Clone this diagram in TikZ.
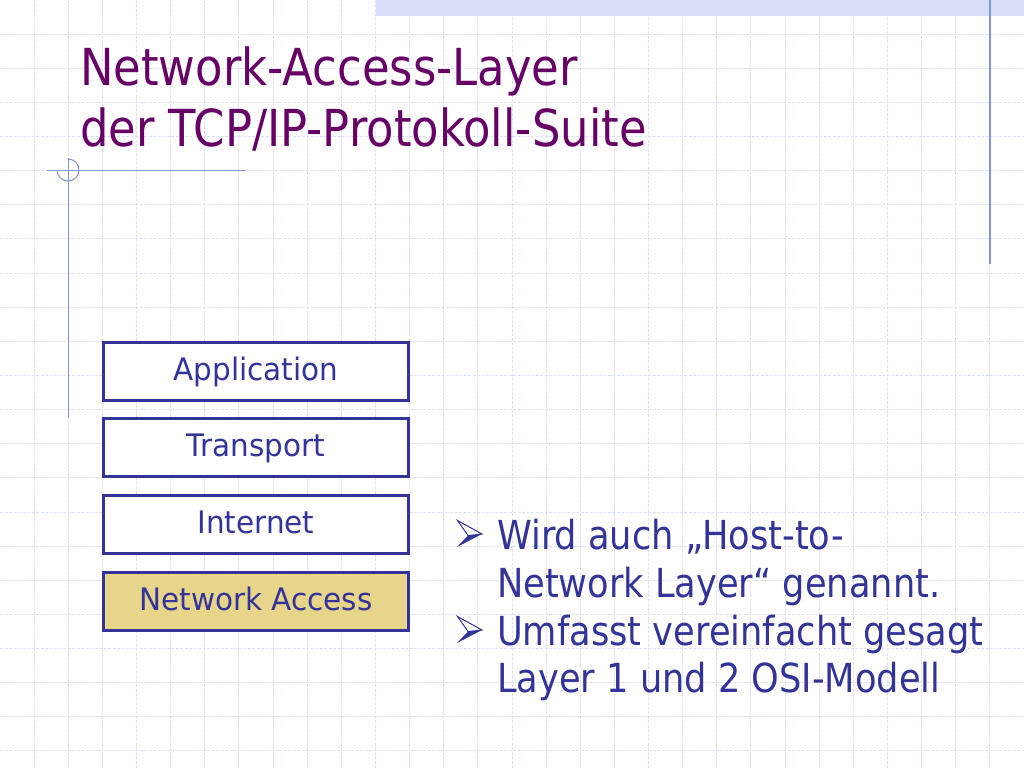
\documentclass[tikz,border=0pt]{standalone}
\usepackage{fontspec}
\setmainfont{DejaVu Sans}[FakeStretch=0.88]
\newfontfamily\boxfont{DejaVu Sans}[FakeStretch=0.95]
\definecolor{gridblue}{RGB}{220,226,246}
\definecolor{bandblue}{RGB}{214,223,246}
\definecolor{decoblue}{RGB}{130,148,222}
\definecolor{titlepurple}{RGB}{102,0,102}
\definecolor{textblue}{RGB}{51,51,153}
\definecolor{sandfill}{RGB}{231,213,137}
\begin{document}
\begin{tikzpicture}[x=1pt,y=-1pt,
  gridline/.style={draw=gridblue,line width=1pt,dash pattern=on 3pt off 1.5pt},
  deco/.style={draw=decoblue,line width=1pt},
  titletext/.style={text=titlepurple,font=\fontsize{51}{61}\selectfont,inner sep=0pt,anchor=base west},
  layerbox/.style={draw=textblue,line width=3pt,fill=white,minimum width=305.5pt,minimum height=58pt,
     text=textblue,font=\boxfont\fontsize{31}{36}\selectfont,text height=22pt,text depth=4pt,inner sep=0pt},
  bullettext/.style={text=textblue,font=\fontsize{40}{48}\selectfont,inner sep=0pt,anchor=base west},
  bulletarrow/.pic={
     \fill[textblue] (0,27) -- (25,14) -- (11,15.5) -- cycle;
     \draw[textblue,line width=1pt,line join=miter,fill=white] (0.5,0.5) -- (25,14) -- (11,15.5) -- cycle;
  }]
\useasboundingbox (0,0) rectangle (1024,768);
\fill[white] (0,0) rectangle (1024,768);
% grid
\foreach \i in {1,...,29} \draw[gridline] (\i*34.133,0) -- (\i*34.133,768);
\foreach \j in {1,...,22} \draw[gridline] (0,\j*34.133) -- (1024,\j*34.133);
% top band
\fill[bandblue] (376,0) rectangle (1024,16);
% right vertical line
\draw[deco,line width=2pt] (990,0) -- (990,264);
% left decoration
\draw[deco] (47,170) -- (246,170);
\draw[deco] (68,158) -- (68,418);
\draw[deco] (68,159) arc[start angle=-90,end angle=180,x radius=11pt,y radius=-11pt];
% title
\node[titletext] (t1) at (80,85) {Network-Access-Layer};
\node[titletext] (t2) at (80,146) {der TCP/IP-Protokoll-Suite};
% layers
\node[layerbox] (app) at (256,371) {Application};
\node[layerbox] (trn) at (256,447.5) {Transport};
\node[layerbox] (inet) at (256,524.5) {Internet};
\node[layerbox,fill=sandfill] (net) at (256,601.5) {Network Access};
% bullets
\pic at (457,520) {bulletarrow};
\pic at (457,616) {bulletarrow};
\node[bullettext] (l1) at (497,549) {Wird auch „Host-to-};
\node[bullettext] (l2) at (497,597) {Network Layer“ genannt.};
\node[bullettext] (l3) at (497,645) {Umfasst vereinfacht gesagt};
\node[bullettext] (l4) at (497,692) {Layer 1 und 2 OSI-Modell};
\end{tikzpicture}
\end{document}
